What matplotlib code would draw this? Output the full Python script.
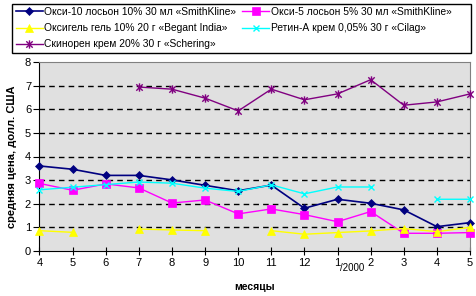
import numpy as np
import matplotlib
matplotlib.use("Agg")
import matplotlib.pyplot as plt
from matplotlib.path import Path
from matplotlib.patches import Rectangle

plt.rcParams['font.family'] = ['Liberation Sans', 'DejaVu Sans']

months = ['4', '5', '6', '7', '8', '9', '10', '11', '12', '1', '2', '3', '4', '5']
nan = np.nan
oksi10 = [3.6, 3.46, 3.2, 3.2, 3.01, 2.78, 2.55, 2.79, 1.81, 2.19, 2.02, 1.74, 1.03, 1.2]
oksi5 = [2.86, 2.57, 2.84, 2.67, 2.03, 2.16, 1.57, 1.78, 1.54, 1.24, 1.67, 0.75, 0.75, 0.78]
oksigel = [0.86, 0.79, nan, 0.93, 0.89, 0.86, nan, 0.86, 0.71, 0.78, 0.85, 0.95, 0.82, 1.0]
retin = [2.59, 2.7, 2.81, 2.92, 2.87, 2.66, 2.52, 2.8, 2.42, 2.71, 2.71, nan, 2.19, 2.19]
skinoren = [nan, nan, nan, 6.94, 6.85, 6.47, 5.93, 6.85, 6.4, 6.65, 7.25, 6.17, 6.31, 6.65]

names = ['Окси-10 лосьон 10% 30 мл «SmithKline»',
         'Окси-5 лосьон 5% 30 мл «SmithKline»',
         'Оксигель гель 10% 20 г «Begant India»',
         'Ретин-А крем 0,05% 30 г «Cilag»',
         'Скинорен крем 20% 30 г «Schering»']

asterisk = Path([(-1, -1), (1, 1), (-1, 1), (1, -1), (0, -1.3), (0, 1.3)],
                [Path.MOVETO, Path.LINETO, Path.MOVETO, Path.LINETO, Path.MOVETO, Path.LINETO])

W, H = 477, 296
fig = plt.figure(figsize=(W / 100, H / 100), dpi=100)
ax = fig.add_axes([39.5 / W, 45 / H, (470 - 39.5) / W, (251 - 62) / H])
ax.set_facecolor('#E0E0E0')

x = np.arange(len(months))
series = [
    (oksi10, dict(color='#000080', marker='D', ms=4.5, lw=1.2, mew=0.5)),
    (oksi5, dict(color='#FF00FF', marker='s', ms=5.5, lw=1.0, mew=0.5)),
    (oksigel, dict(color='#FFFF00', marker='^', ms=6, lw=1.0, mew=0.5)),
    (retin, dict(color='#00FFFF', marker='x', ms=5, lw=1.0, mew=1.0)),
    (skinoren, dict(color='#800080', marker=asterisk, ms=6, lw=1.0, mew=1.0)),
]
handles = []
for (vals, st), nm in zip(series, names):
    h, = ax.plot(x, vals, clip_on=False, label=nm, zorder=3, **st)
    handles.append(h)

ax.set_xlim(0, len(months) - 1)
ax.set_ylim(0, 8)
ax.set_xticks(x)
ax.set_xticklabels(months)
ax.set_yticks(range(0, 9))
ax.yaxis.grid(True, color='black', linestyle=(0, (4, 3)), lw=1)
gl = ax.get_ygridlines()
gl[0].set_visible(False)
gl[-1].set_visible(False)
ax.set_axisbelow(True)

for s in ['top', 'right']:
    ax.spines[s].set_color('#808080')
for s in ['left', 'bottom']:
    ax.spines[s].set_color('black')
ax.tick_params(axis='x', direction='inout', length=6, labelsize=8, pad=2)
ax.tick_params(axis='y', direction='out', length=4, labelsize=8, pad=2)

ax.text(9.06, -0.72, '/2000', fontsize=7, ha='left', va='center', transform=ax.transData)

ax.set_xlabel('месяцы', fontsize=7.5, fontweight='bold', labelpad=10)
ax.set_ylabel('средняя цена, долл. США', fontsize=8, fontweight='bold', labelpad=6)

# legend frame
fig.patches.append(Rectangle((12 / W, 1 - 53 / H), (471 - 12) / W, 49 / H,
                             transform=fig.transFigure, fill=False,
                             edgecolor='black', lw=1.0))
order = [0, 2, 4, 1, 3]
leg = fig.legend(handles=[handles[i] for i in order], ncol=2, loc='upper left',
                 bbox_to_anchor=(14 / W, 1 - 5 / H),
                 fontsize=7.4, frameon=False,
                 borderpad=0.2, handlelength=2.6, handletextpad=0.15,
                 labelspacing=0.6, columnspacing=0.6, borderaxespad=0)

fig.savefig('out.png', dpi=100)
